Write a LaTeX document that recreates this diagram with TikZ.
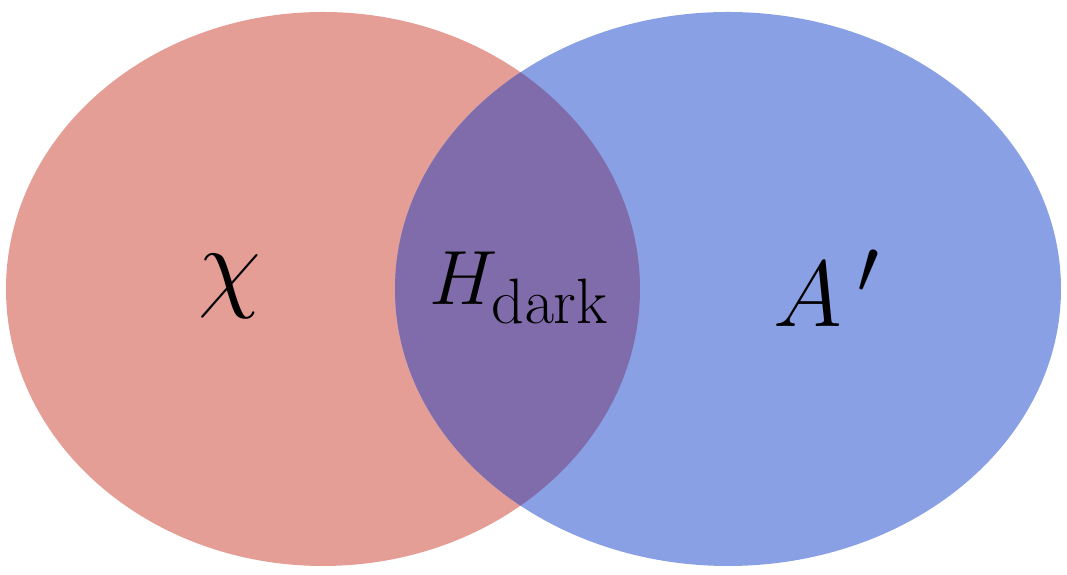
\documentclass[tikz,border=0pt]{standalone}
\usepackage{amsmath}
\usepackage{tikz}
\usetikzlibrary{positioning}
\definecolor{chired}{RGB}{228,158,150}
\definecolor{aprimeblue}{RGB}{138,160,228}
\definecolor{overlappurple}{RGB}{128,108,170}
\tikzset{
  setlbl/.style={inner sep=0pt, anchor=base, text=black, font=\Huge, transform shape},
}
\begin{document}
\begin{tikzpicture}
\useasboundingbox (0,0) rectangle (10.67,5.75);
% the two sets
\fill[chired] (3.23,2.86) ellipse [x radius=3.17, y radius=2.77];
\fill[aprimeblue] (7.28,2.86) ellipse [x radius=3.33, y radius=2.77];
% their overlap
\begin{scope}
  \clip (3.23,2.86) ellipse [x radius=3.17, y radius=2.77];
  \fill[overlappurple] (7.28,2.86) ellipse [x radius=3.33, y radius=2.77];
\end{scope}
\node[setlbl, scale=1.17] (chi) at (2.30,2.76) {$\chi$};
\node[setlbl, scale=0.88] (hd) at (5.19,2.70) {$H_{\mathrm{dark}}$};
\node[setlbl, scale=1.07] (ap) at (8.27,2.48) {$A\,'$};
\end{tikzpicture}
\end{document}
